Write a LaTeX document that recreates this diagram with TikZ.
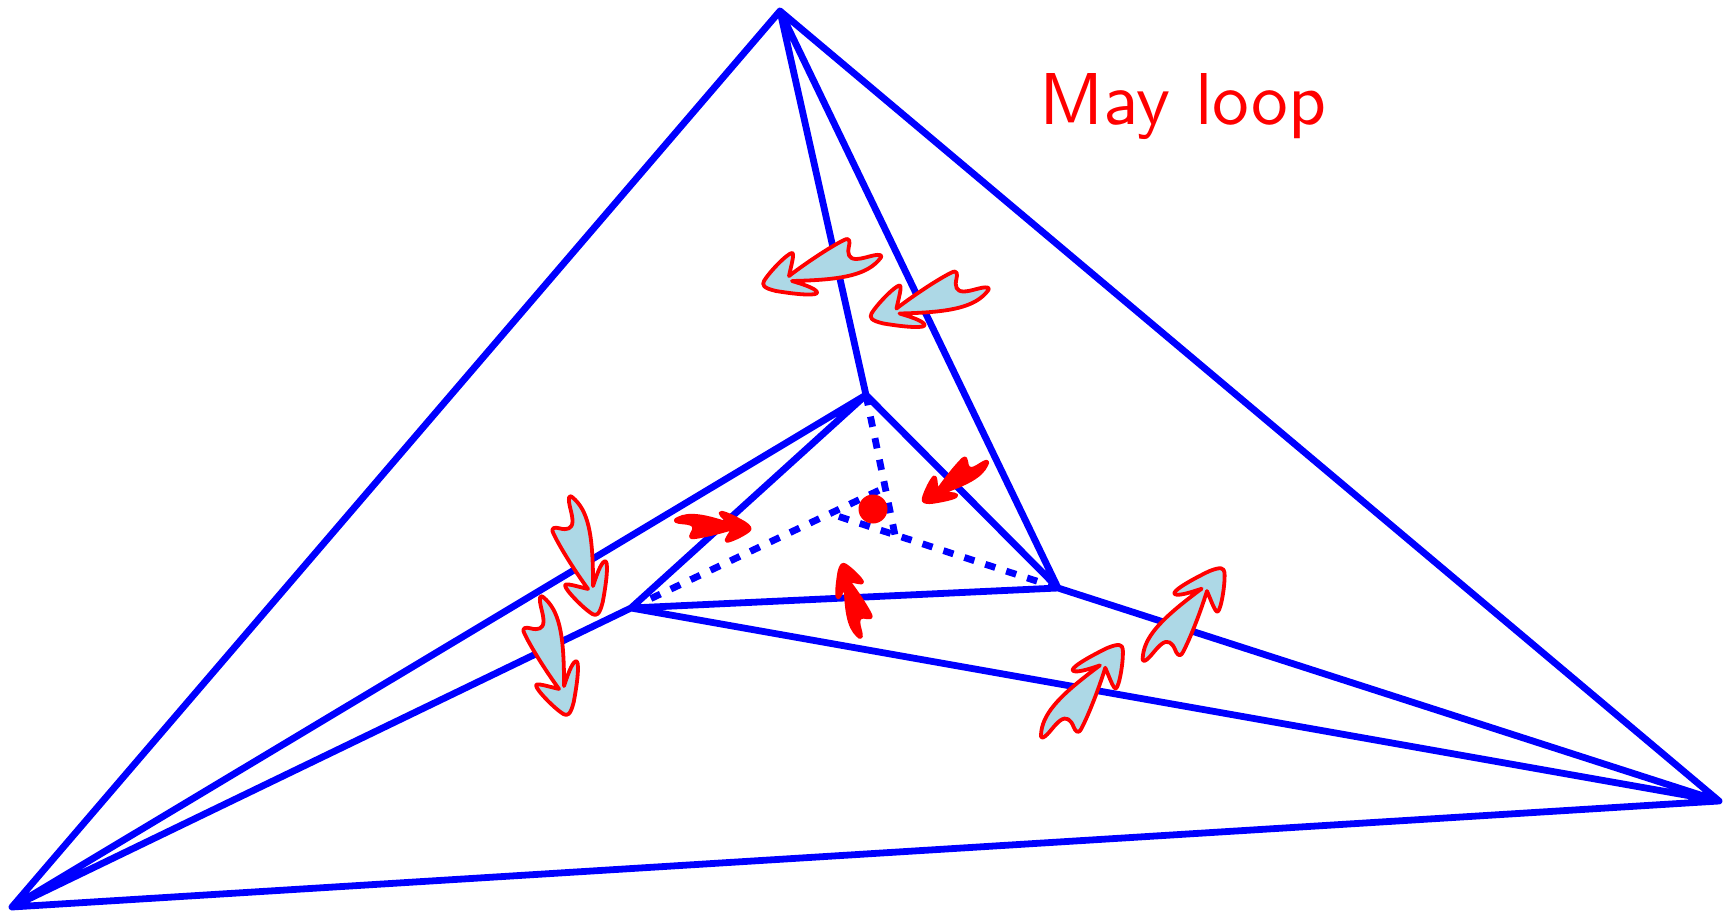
\documentclass[tikz,border=0pt]{standalone}
\usepackage{fontspec}
\newfontfamily\labfont{lmsans10-regular.otf}
\usepackage{xcolor}
\definecolor{lblue}{RGB}{173,216,230}
\tikzset{
  edgeline/.style={draw=blue,line width=6.8pt,line join=round,line cap=round},
  dashline/.style={draw=blue,line width=6.8pt,dash pattern=on 10.5pt off 11.5pt},
  bigarrow/.style={draw=red,fill=lblue,line width=3.8pt,line join=round},
  smallarrow/.style={draw=red,fill=red,line width=3pt,line join=round,scale=.62},
  darrow/.pic={
    \path[pic actions] (-1,-2) .. controls (20,-18) and (42,-32) .. (54,-38)
      .. controls (60,-41) and (60,-36) .. (59,-32)
      .. controls (57,-24) and (59,-19) .. (66,-19)
      .. controls (74,-19) and (84,-24) .. (90,-23)
      .. controls (93,-22) and (90,-19) .. (88,-17)
      .. controls (74,-2) and (48,2) .. (2,3)
      .. controls (12,6) and (25,10) .. (27,14)
      .. controls (29,18) and (10,17) .. (-14,13)
      .. controls (-27,10) and (-28,7) .. (-26,3)
      .. controls (-20,-7) and (-2,-25) .. (2,-25)
      .. controls (5,-25) and (1,-12) .. (-1,-2) -- cycle;
  }
}
\begin{document}
\begin{tikzpicture}[x=1pt,y=-1pt]
\useasboundingbox (0,0) rectangle (1730,912);
\coordinate (A) at (780,11);
\coordinate (B) at (12,907);
\coordinate (C) at (1719,801);
\coordinate (D) at (866,395);
\coordinate (E) at (1058,588);
\coordinate (F) at (631,608);
\coordinate (G) at (828,513);
\coordinate (H) at (895,535);
\coordinate (K) at (886,487);
\path[edgeline] (A)--(B) (A)--(C) (B)--(C) (A)--(D) (A)--(E) (B)--(D) (B)--(F)
  (C)--(E) (C)--(F) (D)--(E) (D)--(F) (E)--(F);
\path[dashline] (D)--(H);
\path[dashline] (E)--(G);
\path[dashline] (F)--(K);
\node[circle,fill=red,minimum size=29pt,inner sep=0pt] (dot) at (873,509) {};
\pic[bigarrow] at (790,278) {darrow};
\pic[bigarrow] at (897.5,310.5) {darrow};
\pic[bigarrow,rotate=88.7] at (590,588) {darrow};
\pic[bigarrow,rotate=88.7] at (561,688) {darrow};
\pic[bigarrow,rotate=-144.7] at (1205,590) {darrow};
\pic[bigarrow,rotate=-144.7] at (1103.3,666.7) {darrow};
\pic[smallarrow,rotate=18] at (938,492) {darrow};
\pic[smallarrow,rotate=160] at (733,527) {darrow};
\pic[smallarrow,rotate=-90] at (847,581) {darrow};
\node[anchor=base west,inner sep=0pt,text=red,font=\labfont\fontsize{73.5}{73.5}\selectfont] (lbl) at (1039,125) {May loop};
\end{tikzpicture}
\end{document}
